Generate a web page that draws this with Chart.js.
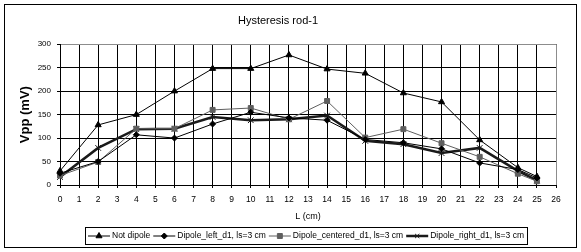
<!DOCTYPE html>
<html>
<head>
<meta charset="utf-8">
<script src="https://cdn.jsdelivr.net/npm/chart.js@4.4.1/dist/chart.umd.min.js"></script>
<style>
body{margin:0;background:#fff}
#wrap{width:581px;height:252px}
</style>
</head>
<body>
<div id="wrap"><canvas id="c" width="581" height="252"></canvas></div>
<script>
// L (cm) positions where readings were taken
const lengths = [0, 2, 4, 6, 8, 10, 12, 14, 16, 18, 20, 22, 24, 25]

// Vpp (mV) for each configuration
const notDipole   = [30, 128, 150, 200, 248, 248, 277, 247, 238, 196, 177, 96, 37, 18]
const dipoleLeft  = [25, 50, 107, 100, 130, 155, 143, 138, 97, 90, 77, 47, 33, 15]
const dipoleCent  = [20, 49, 120, 120, 160, 164, 140, 179, 101, 119, 89, 60, 24, 8]
const dipoleRight = [17, 79, 119, 120, 145, 138, 140, 148, 94, 87, 68, 79, 30, 10]

const seriesNames = ['Not dipole', 'Dipole_left_d1, ls=3 cm', 'Dipole_centered_d1, ls=3 cm', 'Dipole_right_d1, ls=3 cm']

const FONT = 'Arial, "Liberation Sans", sans-serif'

function pts(vals){
    return vals.map((v, i) => ({x: lengths[i], y: v}))
}

const frame = {
    id: 'frame',
    beforeDatasetsDraw(chart){
        const ctx = chart.ctx
        const xs = chart.scales.x, ys = chart.scales.y
        const top = Math.round(ys.getPixelForValue(300)) + 0.5
        const right = Math.round(xs.getPixelForValue(26)) + 0.5
        const bottom = Math.round(ys.getPixelForValue(0))
        const left = Math.round(xs.getPixelForValue(0))
        ctx.save()
        ctx.strokeStyle = '#8c8c8c'
        ctx.lineWidth = 1
        ctx.beginPath()
        ctx.moveTo(left + 1, top)
        ctx.lineTo(right, top)
        ctx.lineTo(right, bottom)
        ctx.stroke()
        ctx.restore()
    },
    afterDraw(chart){
        const ctx = chart.ctx
        ctx.save()
        // outer frame
        ctx.strokeStyle = '#000'
        ctx.lineWidth = 1
        ctx.strokeRect(4.5, 4.5, 572, 243)

        // legend: line + marker, then text
        ctx.font = '8.5px ' + FONT
        ctx.textBaseline = 'middle'
        const lineLen = 22
        const items = chart.data.datasets.map(ds => ({ds: ds, w: ctx.measureText(ds.label).width}))
        let total = 0
        items.forEach(it => { total += lineLen + 2 + it.w + 3 })
        const boxL = Math.round(306 - (total + 3) / 2)
        const boxT = 227, boxH = 17
        ctx.strokeRect(boxL + 0.5, boxT + 0.5, Math.round(total + 3), boxH)
        let x = boxL + 3
        const cy = boxT + boxH / 2 + 0.5
        items.forEach(it => {
            const ds = it.ds
            ctx.strokeStyle = ds.borderColor
            ctx.lineWidth = ds.borderWidth
            ctx.beginPath()
            ctx.moveTo(x, cy)
            ctx.lineTo(x + lineLen, cy)
            ctx.stroke()
            ctx.fillStyle = ds.backgroundColor
            ctx.lineWidth = 1
            Chart.helpers.drawPoint(ctx, {
                pointStyle: ds.pointStyle,
                radius: ds.pointStyle == 'crossRot' ? 3 : ds.pointRadius,
                borderWidth: 1,
                rotation: 0
            }, x + lineLen / 2, cy)
            ctx.fillStyle = '#000'
            ctx.fillText(ds.label, x + lineLen + 2, cy)
            x += lineLen + 2 + it.w + 3
        })
        ctx.restore()
    }
}

function makeSet(label, vals, color, width, style, radius){
    return {
        label: label,
        data: pts(vals),
        borderColor: color,
        backgroundColor: color,
        borderWidth: width,
        pointStyle: style,
        pointRadius: radius,
        pointBorderWidth: 1,
        pointBackgroundColor: color,
        pointBorderColor: color,
        tension: 0,
        clip: false
    }
}

const config = {
    type: 'line',
    data: {
        datasets: [
            makeSet(seriesNames[0], notDipole, '#000000', 1, 'triangle', 3.5),
            makeSet(seriesNames[1], dipoleLeft, '#000000', 1, 'rectRot', 3),
            makeSet(seriesNames[2], dipoleCent, '#5f5f5f', 1, 'rect', 3.5),
            makeSet(seriesNames[3], dipoleRight, '#1a1a1a', 2.5, 'crossRot', 4)
        ]
    },
    options: {
        responsive: false,
        animation: false,
        devicePixelRatio: 1,
        layout: {padding: {left: 0, right: 25, top: 0, bottom: 0}},
        plugins: {
            legend: {display: false},
            tooltip: {enabled: false},
            title: {
                display: true,
                text: 'Hysteresis rod-1',
                color: '#000',
                font: {size: 11, family: FONT, weight: 'normal'},
                padding: {top: 14, bottom: 17}
            }
        },
        scales: {
            x: {
                type: 'linear',
                min: 0,
                max: 26,
                afterFit: s => { s.height = 67 },
                ticks: {stepSize: 1, color: '#000', padding: 7, font: {size: 8.5, family: FONT}},
                grid: {color: '#000', lineWidth: 1, tickLength: 3},
                border: {color: '#000'},
                title: {display: true, text: 'L (cm)', color: '#000', font: {size: 9, family: FONT}, padding: {top: 0, bottom: 30}}
            },
            y: {
                min: 0,
                max: 300,
                afterFit: s => { s.width = 60 },
                ticks: {stepSize: 50, color: '#000', padding: 6, font: {size: 8, family: FONT}},
                grid: {color: '#000', lineWidth: 1, tickLength: 3},
                border: {color: '#000'},
                title: {display: true, text: 'Vpp (mV)', color: '#000', font: {size: 13, family: FONT, weight: 'bold'}, padding: {top: 18, bottom: 0}}
            }
        }
    },
    plugins: [frame]
}

new Chart(document.getElementById('c'), config)
</script>
</body>
</html>
